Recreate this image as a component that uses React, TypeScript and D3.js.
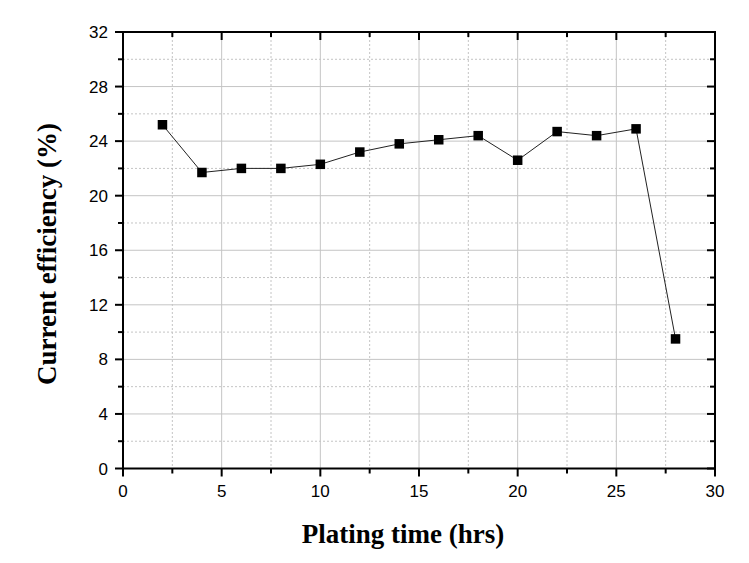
import React from "react";
import * as d3 from "d3";

const times = [2, 4, 6, 8, 10, 12, 14, 16, 18, 20, 22, 24, 26, 28];
const efficiency = [25.2, 21.7, 22.0, 22.0, 22.3, 23.2, 23.8, 24.1, 24.4, 22.6, 24.7, 24.4, 24.9, 9.5];
const xTicks = [0, 5, 10, 15, 20, 25, 30];
const xMinor = [2.5, 7.5, 12.5, 17.5, 22.5, 27.5];
const yTicks = [0, 4, 8, 12, 16, 20, 24, 28, 32];
const yMinor = [2, 6, 10, 14, 18, 22, 26, 30];

export default function App() {
  const W = 749, H = 563;
  const L = 123, R = 715, T = 32, B = 468.5;
  const x = d3.scaleLinear().domain([0, 30]).range([L, R]);
  const y = d3.scaleLinear().domain([0, 32]).range([B, T]);
  const line = d3.line<number>().x((_, i) => x(times[i])).y((d) => y(d));
  const grid = "#c4c4c4";
  const ms = 9.5;
  const tickFont = "Liberation Sans, Arial, sans-serif";
  return (
    <svg width={W} height={H} style={{ position: "absolute", left: 0, top: 0, background: "#fff" }}>
      <rect x={0} y={0} width={W} height={H} fill="#fff" />
      {xMinor.map((v) => (
        <line key={"xm" + v} x1={x(v)} x2={x(v)} y1={T} y2={B} stroke={grid} strokeWidth={1} strokeDasharray="2,2" />
      ))}
      {yMinor.map((v) => (
        <line key={"ym" + v} x1={L} x2={R} y1={y(v)} y2={y(v)} stroke={grid} strokeWidth={1} strokeDasharray="2,2" />
      ))}
      {xTicks.slice(1, -1).map((v) => (
        <line key={"xg" + v} x1={x(v)} x2={x(v)} y1={T} y2={B} stroke={grid} strokeWidth={1} />
      ))}
      {yTicks.slice(1, -1).map((v) => (
        <line key={"yg" + v} x1={L} x2={R} y1={y(v)} y2={y(v)} stroke={grid} strokeWidth={1} />
      ))}
      <path d={line(efficiency) || ""} fill="none" stroke="#222" strokeWidth={1} />
      {efficiency.map((v, i) => (
        <rect key={"p" + i} x={x(times[i]) - ms / 2} y={y(v) - ms / 2} width={ms} height={ms} fill="#000" />
      ))}
      <rect x={L} y={T} width={R - L} height={B - T} fill="none" stroke="#000" strokeWidth={2} />
      {xTicks.map((v) => (
        <g key={"xt" + v}>
          <line x1={x(v)} x2={x(v)} y1={B} y2={B + 8} stroke="#000" strokeWidth={2} />
          <line x1={x(v)} x2={x(v)} y1={T} y2={T + 8} stroke="#000" strokeWidth={2} />
          <text x={x(v)} y={497} textAnchor="middle" fontFamily={tickFont} fontSize={17} fill="#000">{v}</text>
        </g>
      ))}
      {xMinor.map((v) => (
        <g key={"xmt" + v}>
          <line x1={x(v)} x2={x(v)} y1={B} y2={B + 5} stroke="#000" strokeWidth={2} />
          <line x1={x(v)} x2={x(v)} y1={T} y2={T + 5} stroke="#000" strokeWidth={2} />
        </g>
      ))}
      {yTicks.map((v) => (
        <g key={"yt" + v}>
          <line x1={L - 8} x2={L} y1={y(v)} y2={y(v)} stroke="#000" strokeWidth={2} />
          <line x1={R - 8} x2={R} y1={y(v)} y2={y(v)} stroke="#000" strokeWidth={2} />
          <text x={L - 15} y={y(v) + 6} textAnchor="end" fontFamily={tickFont} fontSize={17} fill="#000">{v}</text>
        </g>
      ))}
      {yMinor.map((v) => (
        <g key={"ymt" + v}>
          <line x1={L - 5} x2={L} y1={y(v)} y2={y(v)} stroke="#000" strokeWidth={2} />
          <line x1={R - 5} x2={R} y1={y(v)} y2={y(v)} stroke="#000" strokeWidth={2} />
        </g>
      ))}
      <text x={403} y={543} textAnchor="middle" fontFamily="Liberation Serif, Times New Roman, serif" fontWeight="bold" fontSize={27} fill="#000">Plating time (hrs)</text>
      <text transform={`translate(56,254) rotate(-90)`} textAnchor="middle" fontFamily="Liberation Serif, Times New Roman, serif" fontWeight="bold" fontSize={27} fill="#000">Current efficiency (%)</text>
    </svg>
  );
}
